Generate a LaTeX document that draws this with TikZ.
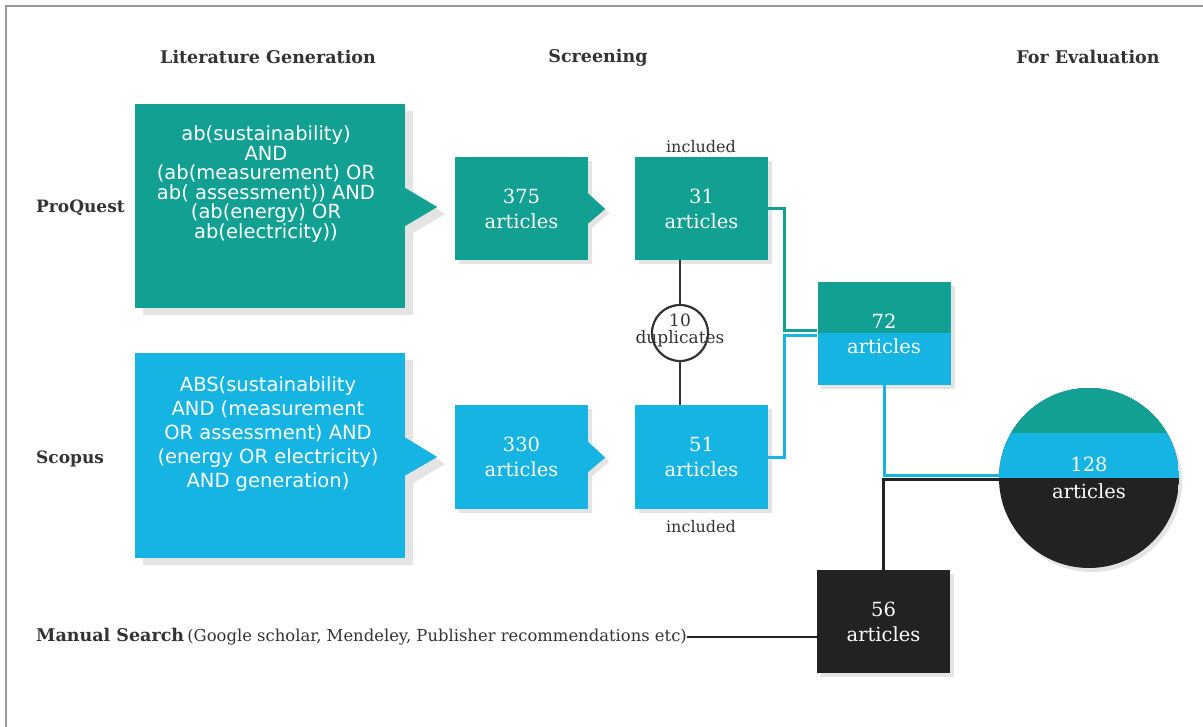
\documentclass[tikz,border=0pt]{standalone}
\usepackage{fontspec}
\setmainfont{DejaVu Serif}
\newfontfamily\qsans{DejaVu Sans}
\usetikzlibrary{calc,backgrounds}
\definecolor{tealc}{HTML}{11A091}
\definecolor{cyanc}{HTML}{16B4E2}
\definecolor{darkc}{HTML}{222222}
\definecolor{labc}{HTML}{333333}
\definecolor{shadc}{HTML}{E4E4E4}
\tikzset{
  header/.style={font=\bfseries\fontsize{17.5}{20}\selectfont, text=labc, inner sep=0},
  rowlab/.style={font=\bfseries\fontsize{17}{20}\selectfont, text=labc, inner sep=0, anchor=west},
  qbox/.style={minimum width=270, minimum height=204, inner sep=0},
  qtext/.style={text=white, align=center, inner sep=0},
  sbox/.style={minimum width=133, minimum height=103, inner sep=0, text=white, align=center, font=\fontsize{19.5}{25}\selectfont},
  small/.style={font=\fontsize{16}{18}\selectfont, text=labc, inner sep=0},
  tealline/.style={draw=tealc, line width=3},
  cyanline/.style={draw=cyanc, line width=3},
  darkline/.style={draw=darkc, line width=3},
}
\begin{document}
\begin{tikzpicture}[x=1pt,y=-1pt]
\useasboundingbox (0,0) rectangle (1203,727);

% headers
\node[header] (h1) at (268,57) {Literature Generation};
\node[header, anchor=base] (h2) at (598,63) {Screening};
\node[header] (h3) at (1088,57) {For Evaluation};

% row labels
\node[rowlab] (lpq) at (36,208) {ProQuest};
\node[rowlab] (lsc) at (36,459) {Scopus};
\node[anchor=west, inner sep=0, text=labc] (lms) at (36,637)
  {{\bfseries\fontsize{17.5}{20}\selectfont Manual Search} {\fontsize{16.4}{18}\selectfont(Google scholar, Mendeley, Publisher recommendations etc)}};

% query boxes
\node[qbox, fill=tealc] (pq) at (270,206) {};
\fill[tealc] ($(pq.east)+(0,-18)$) -- ($(pq.east)+(32,1)$) -- ($(pq.east)+(0,20)$) -- cycle;
\node[qtext, font=\qsans\fontsize{19.5}{19.5}\selectfont] (pqt) at (266,184)
  {ab(sustainability)\\AND\\(ab(measurement) OR\\ab( assessment)) AND\\(ab(energy) OR\\ab(electricity))};

\node[qbox, fill=cyanc] (sc) at (270,455.5) {};
\fill[cyanc] ($(sc.east)+(0,-18)$) -- ($(sc.east)+(32,1.5)$) -- ($(sc.east)+(0,20)$) -- cycle;
\node[qtext, font=\qsans\fontsize{19.5}{24}\selectfont] (sct) at (268,434)
  {ABS(sustainability\\AND (measurement\\OR assessment) AND\\(energy OR electricity)\\AND generation)};

% screening boxes
\node[sbox, fill=tealc] (b375) at (521.5,208.5) {375\\articles};
\fill[tealc] ($(b375.east)+(0,-15)$) -- ($(b375.east)+(17,0.5)$) -- ($(b375.east)+(0,15)$) -- cycle;
\node[sbox, fill=tealc] (b31) at (701.5,208.5) {31\\articles};
\node[sbox, fill=cyanc] (b330) at (521.5,457) {330\\articles};
\fill[cyanc] ($(b330.east)+(0,-15)$) -- ($(b330.east)+(17,0.5)$) -- ($(b330.east)+(0,15)$) -- cycle;
\node[sbox, fill=cyanc] (b51) at (701.5,457) {51\\articles};

\node[small] (inc1) at (701,147) {included};
\node[small] (inc2) at (701,527) {included};

% duplicates
\node[circle, draw=labc, line width=2.2, minimum size=56, inner sep=0] (dup) at (680,333) {};
\node[inner sep=0, text=labc, align=center, font=\fontsize{17}{17}\selectfont] (dupt) at (680,330) {10\\duplicates};
\draw[labc, line width=2.4] (dup.north) -- (dup.north |- b31.south);
\draw[labc, line width=2.4] (dup.south) -- (dup.south |- b51.north);

% evaluation
\node[sbox, fill=cyanc, path picture={
  \fill[tealc] (path picture bounding box.north west) rectangle (path picture bounding box.east);
}] (b72) at (884,333.5) {72\\articles};
\node[sbox, fill=darkc] (b56) at (883.5,621.5) {56\\articles};
\node[circle, minimum size=180, inner sep=0, text=white, align=center, font=\fontsize{19.5}{27}\selectfont, path picture={
  \fill[darkc] (path picture bounding box.south west) rectangle (path picture bounding box.north east);
  \fill[cyanc] (path picture bounding box.north west) rectangle (path picture bounding box.east);
  \fill[tealc] (path picture bounding box.north west) rectangle ($(path picture bounding box.north east)+(0,45)$);
}] (c128) at (1089,478) {128\\articles};

% connectors
\coordinate (tj) at (784,331);
\coordinate (cj) at (784,336);
\draw[tealline] (b31.east) -| (tj) -- (tj -| b72.west);
\draw[cyanline] (b51.east) -| (cj) -- (cj -| b72.west);
\coordinate (ce) at ($(c128.west)+(0,-3)$);
\coordinate (de) at ($(c128.west)+(0,1.5)$);
\draw[cyanline] (b72.south) |- (ce);
\draw[darkline] (b56.north) |- (de);
\draw[darkline, line width=2.2] (lms.east) -- (lms.east -| b56.west);

% background: page, frame, shadows
\begin{scope}[on background layer]
\fill[white] (0,0) rectangle (1203,727);
\draw[gray!80, line width=1.6] (6,727) -- (6,6) -- (1203,6);
\fill[shadc] (143,111) -- (413,111) -- (413,195) -- (445,214) -- (413,233) -- (413,315) -- (143,315) -- cycle;
\fill[shadc] (143,360) -- (413,360) -- (413,444) -- (445,464) -- (413,483) -- (413,565) -- (143,565) -- cycle;
\foreach \n in {b375,b31,b330,b51,b72,b56}{
  \fill[shadc] ($(\n.north west)+(4,4)$) rectangle ($(\n.south east)+(4,4)$);
}
\fill[shadc] ($(b375.east)+(4,-11)$) -- ($(b375.east)+(21,4.5)$) -- ($(b375.east)+(4,19)$) -- cycle;
\fill[shadc] ($(b330.east)+(4,-11)$) -- ($(b330.east)+(21,4.5)$) -- ($(b330.east)+(4,19)$) -- cycle;
\fill[shadc] ($(c128.center)+(3,4)$) circle[radius=90];
\end{scope}
\end{tikzpicture}
\end{document}
